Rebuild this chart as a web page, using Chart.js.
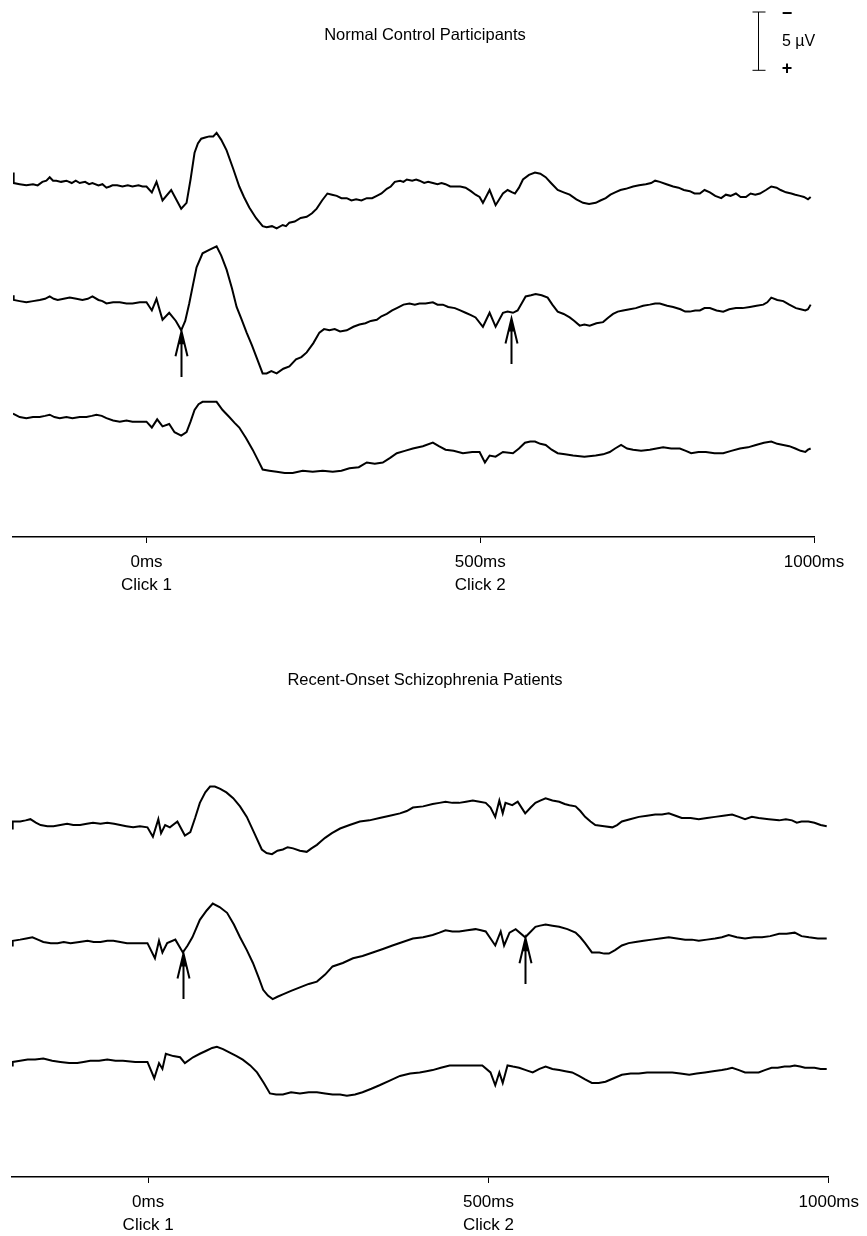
<!DOCTYPE html>
<html lang="en">
<head>
<meta charset="UTF-8">
<title>Auditory ERP - paired clicks</title>
<script src="https://cdn.jsdelivr.net/npm/chart.js@4"></script>
<style>
  body { margin: 0; background: #fff; }
  canvas.panel { position: absolute; left: 0; }
</style>
</head>
<body>
<canvas id="controls" class="panel" width="867" height="640" style="top:0px"></canvas>
<canvas id="patients" class="panel" width="867" height="640" style="top:618px"></canvas>
<script>
// ---- data: [time in ms, amplitude in µV], negative up ----
const tickValues = [0, 500, 1000];
const tickLabels = ['0ms', '500ms', '1000ms'];
const clickLabels = ['Click 1', 'Click 2', ''];

// Normal control participants
const ctrl1 = [[-200,-0.9],[-199,0],[-190,0.1],[-180,0.2],[-170,0.1],[-163,0.2],[-156,-0.1],[-150,-0.2],[-145,-0.5],[-140,-0.2],[-135,-0.2],[-128,-0.1],[-120,-0.2],[-112,0],[-106,-0.2],[-100,0],[-92,-0.1],[-86,0.1],[-81,0],[-72,0.2],[-66,0.1],[-60,0.4],[-55,0.3],[-51,0.2],[-44,0.2],[-36,0.3],[-28,0.2],[-21,0.3],[-12,0.2],[-6,0.3],[0,0.3],[8,0.8],[15,-0.1],[24,1.5],[37,0.6],[52,2.2],[60,1.7],[66,-0.3],[72,-2.6],[77,-3.4],[82,-3.8],[88,-3.9],[94,-4.0],[100,-4.0],[105,-4.3],[112,-3.7],[120,-2.8],[130,-1.2],[139,0.3],[146,1.2],[154,2.1],[164,3.0],[174,3.7],[180,3.8],[188,3.7],[195,3.9],[204,3.6],[209,3.7],[214,3.4],[222,3.3],[231,3.0],[240,2.9],[248,2.6],[255,2.2],[263,1.5],[271,0.9],[278,1.0],[285,1.1],[292,1.3],[300,1.3],[307,1.5],[314,1.4],[322,1.5],[330,1.3],[338,1.3],[345,1.1],[352,0.9],[360,0.5],[366,0.3],[372,-0.1],[380,-0.2],[385,-0.1],[390,-0.3],[398,-0.2],[404,-0.3],[409,-0.2],[416,0],[422,-0.1],[429,0],[436,0.1],[442,0],[448,0.1],[455,0.3],[462,0.3],[470,0.3],[478,0.4],[486,0.7],[493,1.0],[499,1.2],[504,1.7],[514,0.6],[523,1.9],[534,0.9],[541,0.6],[548,0.8],[552,0.9],[558,0.4],[564,-0.3],[573,-0.7],[582,-0.9],[590,-0.8],[598,-0.5],[606,0],[616,0.6],[625,0.8],[634,1.0],[644,1.4],[654,1.7],[663,1.8],[673,1.7],[680,1.5],[688,1.3],[695,1.0],[702,0.8],[710,0.6],[718,0.5],[729,0.3],[738,0.2],[748,0.1],[756,0],[762,-0.2],[769,-0.1],[779,0.1],[789,0.3],[797,0.4],[805,0.6],[814,0.7],[821,0.9],[829,0.9],[836,0.6],[844,0.8],[852,1.1],[861,1.3],[868,1.0],[875,1.1],[883,0.9],[890,1.2],[898,1.2],[905,0.9],[912,1.0],[919,0.9],[928,0.6],[936,0.3],[944,0.4],[950,0.6],[958,0.8],[966,0.9],[972,1.0],[979,1.1],[985,1.2],[991,1.4],[995,1.2]];
const ctrl2 = [[-200,-0.4],[-199,0],[-190,0.1],[-180,0.2],[-170,0.1],[-160,0],[-152,-0.1],[-145,-0.3],[-139,-0.1],[-133,0],[-124,-0.1],[-115,-0.2],[-105,-0.1],[-96,0],[-88,-0.1],[-81,-0.3],[-72,0],[-66,0.1],[-60,0.3],[-50,0.2],[-40,0.2],[-30,0.3],[-21,0.3],[-10,0.2],[0,0.2],[8,0.9],[15,-0.1],[24,1.7],[34,1.1],[44,1.8],[52,2.6],[58,1.8],[64,0.3],[70,-1.4],[75,-2.8],[84,-4.0],[94,-4.3],[105,-4.6],[112,-3.8],[120,-2.6],[128,-1.0],[135,0.6],[142,1.6],[150,2.8],[158,3.9],[166,5.1],[174,6.3],[180,6.3],[187,6.1],[195,6.3],[205,5.9],[214,5.7],[224,5.1],[232,4.9],[240,4.5],[250,3.7],[259,2.8],[266,2.5],[274,2.6],[282,2.5],[290,2.7],[300,2.6],[310,2.3],[319,2.1],[328,2.0],[336,1.8],[345,1.7],[352,1.4],[360,1.2],[368,0.9],[375,0.7],[385,0.4],[394,0.3],[402,0.4],[409,0.3],[418,0.3],[429,0.2],[436,0.4],[444,0.4],[452,0.6],[462,0.7],[470,0.9],[478,1.1],[486,1.3],[493,1.5],[504,2.3],[514,1.1],[523,2.3],[534,1.1],[541,1.0],[549,1.1],[556,0.9],[562,0.3],[568,-0.3],[576,-0.4],[583,-0.5],[592,-0.4],[601,-0.2],[608,0.4],[616,1.0],[625,1.2],[634,1.5],[641,1.8],[649,2.2],[656,2.1],[664,2.2],[674,2.0],[684,1.9],[692,1.5],[699,1.2],[706,1.0],[714,0.9],[724,0.8],[733,0.7],[744,0.5],[754,0.4],[762,0.3],[769,0.3],[780,0.5],[789,0.6],[800,0.8],[807,1.0],[814,1.0],[822,0.9],[829,0.9],[836,0.7],[844,0.7],[854,0.9],[864,1.0],[873,0.8],[883,0.7],[893,0.7],[904,0.6],[914,0.5],[924,0.4],[930,0.2],[936,-0.2],[945,0],[954,0.1],[963,0.4],[973,0.7],[980,0.8],[987,0.9],[991,0.8],[995,0.4]];
const ctrl3 = [[-200,-0.3],[-190,0],[-180,0.1],[-170,0],[-160,0],[-152,-0.1],[-145,-0.2],[-138,0],[-130,0.1],[-120,0],[-111,0.1],[-100,0],[-90,0],[-82,-0.1],[-75,-0.2],[-67,-0.1],[-60,0.1],[-50,0.3],[-40,0.4],[-30,0.3],[-21,0.4],[-10,0.4],[0,0.4],[8,0.9],[16,0.2],[24,0.8],[34,0.6],[42,1.3],[52,1.6],[60,1.3],[66,0.4],[72,-0.6],[78,-1.1],[84,-1.3],[95,-1.3],[105,-1.3],[114,-0.6],[124,0],[132,0.5],[139,0.9],[149,1.8],[159,2.8],[167,3.7],[174,4.5],[184,4.6],[195,4.7],[207,4.8],[219,4.8],[234,4.6],[249,4.7],[264,4.6],[279,4.7],[292,4.6],[304,4.4],[318,4.3],[330,3.9],[342,4.0],[354,3.9],[365,3.5],[375,3.1],[387,2.9],[399,2.7],[414,2.5],[429,2.2],[438,2.5],[448,2.8],[460,2.9],[474,3.1],[488,3.0],[499,3.0],[507,3.9],[514,3.3],[523,3.4],[534,3.0],[549,3.1],[558,2.7],[567,2.2],[575,2.1],[582,2.1],[590,2.3],[598,2.4],[607,2.8],[616,3.1],[627,3.2],[639,3.3],[656,3.4],[673,3.3],[684,3.2],[694,3.0],[702,2.7],[711,2.4],[720,2.7],[729,2.8],[741,2.9],[754,2.8],[764,2.7],[774,2.6],[786,2.7],[799,2.7],[808,2.9],[816,3.1],[827,3.0],[838,3.0],[851,3.1],[864,3.1],[876,2.9],[889,2.7],[901,2.6],[913,2.4],[925,2.2],[936,2.1],[945,2.3],[954,2.4],[963,2.5],[972,2.7],[980,2.9],[987,3.0],[991,2.8],[995,2.7]];

// Recent-onset schizophrenia patients
const pat1 = [[-200,0.3],[-199,-0.3],[-188,-0.3],[-180,-0.4],[-173,-0.5],[-165,-0.2],[-158,0],[-148,0.1],[-139,0.1],[-129,0],[-119,-0.1],[-110,0],[-100,0],[-90,-0.1],[-81,-0.2],[-70,-0.1],[-60,-0.2],[-50,-0.1],[-41,0],[-32,0.1],[-22,0.2],[-12,0.1],[-1,0.2],[7,1.0],[15,-0.5],[19,0.7],[25,0],[32,0.2],[43,-0.3],[54,0.9],[62,0.6],[69,-0.6],[76,-1.9],[84,-2.8],[91,-3.3],[98,-3.3],[106,-3.1],[115,-2.8],[125,-2.3],[135,-1.6],[145,-0.7],[156,0.7],[167,2.1],[174,2.4],[182,2.5],[190,2.2],[198,2.1],[205,1.9],[213,2.0],[223,2.2],[233,2.3],[240,2.0],[248,1.7],[254,1.4],[260,1.1],[270,0.7],[282,0.3],[296,0],[311,-0.3],[325,-0.4],[340,-0.6],[355,-0.8],[370,-1.0],[380,-1.2],[389,-1.5],[404,-1.6],[418,-1.8],[428,-1.9],[437,-2.0],[447,-1.9],[457,-1.9],[467,-2.0],[477,-2.1],[487,-2.0],[496,-1.9],[503,-1.5],[510,-0.7],[516,-2.1],[521,-1.0],[525,-1.9],[535,-1.7],[543,-2.0],[554,-1.0],[562,-1.5],[569,-1.9],[576,-2.1],[584,-2.3],[594,-2.1],[604,-2.0],[612,-1.8],[619,-1.7],[628,-1.6],[635,-1.2],[642,-0.7],[650,-0.3],[657,0],[670,0.1],[682,0.2],[689,0],[696,-0.3],[708,-0.5],[721,-0.7],[733,-0.8],[745,-0.9],[755,-0.9],[765,-1.0],[775,-0.8],[784,-0.6],[797,-0.6],[809,-0.5],[821,-0.6],[833,-0.7],[845,-0.8],[858,-0.9],[868,-0.7],[877,-0.5],[887,-0.7],[897,-0.6],[912,-0.5],[927,-0.4],[937,-0.5],[946,-0.4],[953,-0.2],[960,-0.3],[970,-0.3],[979,-0.2],[988,0],[997,0.1]];
const pat2 = [[-200,0.3],[-199,-0.1],[-188,-0.2],[-179,-0.3],[-170,-0.4],[-162,-0.2],[-154,0],[-143,0.1],[-133,0.1],[-124,0],[-114,0.1],[-101,0],[-89,-0.1],[-80,0],[-70,0],[-60,-0.1],[-51,-0.1],[-41,0],[-31,0.1],[-16,0.1],[-1,0.1],[10,1.4],[16,-0.1],[21,0.9],[28,0.1],[40,-0.2],[51,0.9],[58,0.3],[65,-0.4],[76,-1.9],[86,-2.7],[95,-3.3],[105,-3.0],[116,-2.5],[126,-1.5],[135,-0.4],[145,0.7],[154,1.8],[162,3.0],[169,4.1],[176,4.6],[183,4.9],[190,4.7],[198,4.5],[210,4.2],[223,3.9],[236,3.6],[248,3.4],[260,2.8],[271,2.1],[286,1.8],[301,1.4],[315,1.2],[330,0.9],[345,0.6],[359,0.3],[374,0],[389,-0.3],[404,-0.4],[418,-0.6],[428,-0.8],[437,-1.0],[447,-0.9],[457,-0.9],[469,-1.0],[481,-1.1],[489,-1.0],[496,-0.9],[510,0.3],[518,-0.9],[523,0.3],[531,-0.8],[540,-1.1],[554,-0.4],[569,-1.3],[576,-1.4],[584,-1.5],[594,-1.4],[604,-1.3],[616,-1.1],[628,-0.8],[635,-0.4],[642,0.1],[652,0.9],[663,0.9],[670,1.0],[677,1.0],[686,0.7],[696,0.3],[706,0.1],[716,0],[728,-0.1],[740,-0.2],[752,-0.3],[765,-0.4],[777,-0.3],[789,-0.2],[799,-0.2],[809,-0.1],[821,-0.2],[833,-0.3],[843,-0.4],[853,-0.6],[865,-0.4],[877,-0.3],[890,-0.4],[902,-0.4],[914,-0.5],[927,-0.7],[938,-0.7],[950,-0.8],[960,-0.5],[971,-0.4],[984,-0.3],[997,-0.3]];
const pat3 = [[-200,0.3],[-199,0],[-188,-0.1],[-177,-0.2],[-166,-0.2],[-154,-0.3],[-141,-0.1],[-129,0],[-116,0.1],[-104,0.1],[-95,0],[-85,-0.1],[-72,-0.1],[-60,-0.2],[-48,-0.1],[-37,-0.1],[-19,0],[-1,0],[9,1.4],[16,0.1],[21,0.6],[26,-0.7],[37,-0.5],[47,-0.4],[54,0.1],[66,-0.4],[76,-0.7],[87,-1.0],[94,-1.2],[101,-1.3],[110,-1.1],[120,-0.8],[130,-0.5],[139,-0.2],[150,0.3],[160,0.9],[170,1.8],[179,2.7],[188,2.8],[198,2.8],[210,2.6],[223,2.7],[236,2.6],[248,2.6],[260,2.7],[271,2.8],[282,2.8],[292,2.9],[304,2.8],[315,2.6],[328,2.3],[340,2.0],[355,1.6],[370,1.2],[385,1.0],[399,0.9],[409,0.8],[418,0.7],[430,0.5],[443,0.3],[455,0.3],[466,0.3],[479,0.3],[491,0.3],[503,0.9],[510,2.0],[516,0.9],[521,1.8],[528,0.3],[536,0.4],[545,0.5],[555,0.7],[565,0.9],[575,0.6],[584,0.4],[594,0.6],[604,0.7],[613,0.8],[623,0.9],[633,1.2],[642,1.5],[652,1.8],[662,1.8],[672,1.7],[684,1.4],[696,1.1],[709,1.0],[721,1.0],[733,0.9],[745,0.9],[757,0.9],[770,0.9],[782,1.0],[795,1.1],[806,1.0],[818,0.9],[830,0.8],[843,0.7],[851,0.6],[858,0.5],[868,0.7],[877,0.9],[887,0.9],[897,0.9],[906,0.7],[916,0.5],[925,0.5],[935,0.4],[943,0.4],[950,0.3],[958,0.4],[965,0.5],[972,0.5],[979,0.5],[988,0.6],[997,0.6]];

// P50 arrows (ms, amplitude of the middle trace at the tip)
const ctrlArrowMs = [52, 546];
const ctrlArrowUv = [2.6, 1.5];
const patArrowMs = [51, 554];
const patArrowUv = [0.9, -0.4];

const FONT = '"Liberation Sans", Arial, Helvetica, sans-serif';
Chart.defaults.font.family = FONT;
Chart.defaults.color = '#000';

// titles, arrows and the calibration bar
const decor = {
  id: 'decor',
  afterDraw(chart, args, o) {
    const ctx = chart.ctx, xs = chart.scales.x, ys = chart.scales.y;
    ctx.save();
    ctx.fillStyle = '#000';
    ctx.strokeStyle = '#000';
    ctx.font = '16.5px ' + FONT;
    ctx.textAlign = 'center';
    ctx.textBaseline = 'middle';
    ctx.fillText(o.title, 425, o.titleY);

    const len = ys.getPixelForValue(4) - ys.getPixelForValue(0);
    o.arrowMs.forEach((ms, i) => {
      const x = Math.round(xs.getPixelForValue(ms)) + 0.5;
      const tip = ys.getPixelForValue(o.arrowUv[i] + o.arrowBase);
      ctx.lineWidth = 2;
      ctx.beginPath();
      ctx.moveTo(x, tip + 2);
      ctx.lineTo(x, tip + len);
      ctx.moveTo(x - 6, tip + 26);
      ctx.lineTo(x, tip + 1);
      ctx.lineTo(x + 6, tip + 26);
      ctx.stroke();
      ctx.beginPath();
      ctx.moveTo(x, tip);
      ctx.lineTo(x - 3, tip + 14);
      ctx.lineTo(x + 3, tip + 14);
      ctx.closePath();
      ctx.fill();
    });

    if (o.scaleBar) {
      const bar = ys.getPixelForValue(5) - ys.getPixelForValue(0);
      const bx = 758.5, by = 12;
      ctx.lineWidth = 1;
      ctx.beginPath();
      ctx.moveTo(bx, by); ctx.lineTo(bx, by + bar);
      ctx.moveTo(bx - 6, by); ctx.lineTo(bx + 7, by);
      ctx.moveTo(bx - 6, by + bar); ctx.lineTo(bx + 7, by + bar);
      ctx.stroke();
      ctx.font = 'bold 18px ' + FONT;
      ctx.fillText('\u2212', 787, by + 2);
      ctx.fillText('+', 787, by + bar - 1);
      ctx.font = '16px ' + FONT;
      ctx.textAlign = 'left';
      ctx.fillText('5 \u00B5V', 782, by + 30);
    }
    ctx.restore();
  }
};

function panel(id, traces, offsets, yMax, pad, deco) {
  return new Chart(document.getElementById(id), {
    type: 'line',
    data: {
      datasets: traces.map((tr, i) => ({
        data: tr.map(([t, v]) => ({ x: t, y: v + offsets[i] })),
        borderColor: '#000',
        borderWidth: 2,
        pointRadius: 0,
        tension: 0,
        fill: false
      }))
    },
    options: {
      responsive: false,
      animation: false,
      layout: { padding: pad },
      scales: {
        x: {
          type: 'linear',
          min: -200,
          max: 1000,
          afterBuildTicks: axis => { axis.ticks = tickValues.map(v => ({ value: v })); },
          afterFit: axis => { axis.height = 64; },
          ticks: {
            autoSkip: false,
            maxRotation: 0,
            padding: 8,
            color: '#000',
            font: { size: 17, lineHeight: 1.35 },
            callback: v => {
              const i = tickValues.indexOf(v);
              return clickLabels[i] ? [tickLabels[i], clickLabels[i]] : tickLabels[i];
            }
          },
          grid: { display: true, drawOnChartArea: false, drawTicks: true, tickLength: 6, color: '#000' },
          border: { display: true, color: '#000', width: 1.5 }
        },
        y: { display: false, reverse: true, min: 0, max: yMax }
      },
      plugins: { legend: { display: false }, tooltip: { enabled: false }, title: { display: false }, decor: deco }
    },
    plugins: [decor]
  });
}

panel('controls', [ctrl1, ctrl2, ctrl3], [7.12, 17.15, 27.19], 37.48,
  { top: 100, left: 13, right: 53, bottom: 39 },
  { title: 'Normal Control Participants', titleY: 35, arrowMs: ctrlArrowMs, arrowUv: ctrlArrowUv, arrowBase: 17.15, scaleBar: true });

panel('patients', [pat1, pat2, pat3], [9.18, 19.21, 29.5], 39.37,
  { top: 100, left: 12, right: 37, bottom: 17 },
  { title: 'Recent-Onset Schizophrenia Patients', titleY: 62, arrowMs: patArrowMs, arrowUv: patArrowUv, arrowBase: 19.21, scaleBar: false });
</script>
</body>
</html>
